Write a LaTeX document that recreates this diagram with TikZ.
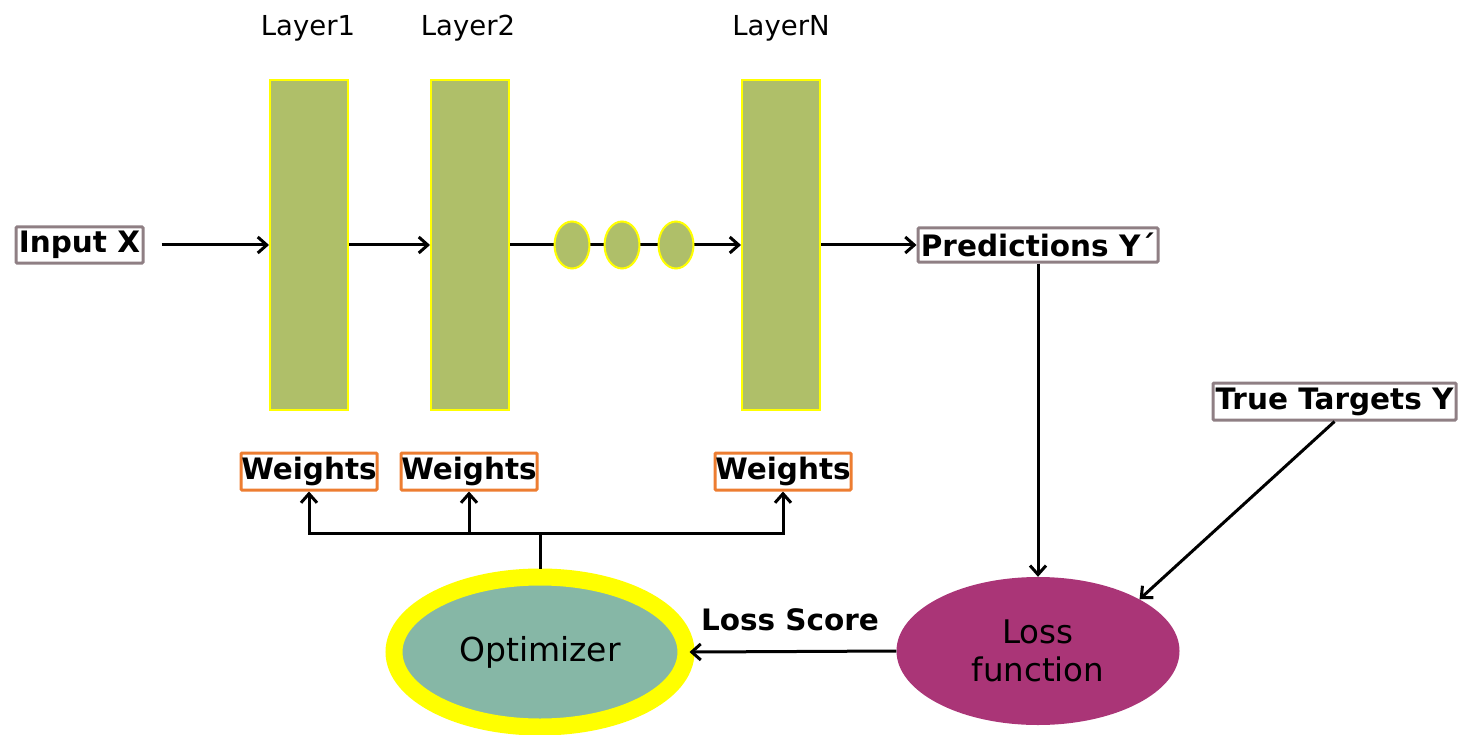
\documentclass[tikz,border=0pt]{standalone}
\usepackage{fontspec}
\setmainfont{DejaVu Sans}
\usetikzlibrary{arrows.meta,shapes.geometric}
\definecolor{layergreen}{HTML}{AFBF69}
\definecolor{ringyellow}{HTML}{FFFF00}
\definecolor{optteal}{HTML}{86B7A6}
\definecolor{lossmag}{HTML}{AA3577}
\definecolor{boxgray}{HTML}{8F7F84}
\definecolor{boxorange}{HTML}{ED7D31}
\tikzset{
  layerbox/.style={draw=ringyellow, line width=2pt, fill=layergreen, minimum width=78pt, minimum height=330pt, inner sep=0pt},
  dotell/.style={ellipse, draw=ringyellow, line width=2pt, fill=layergreen, minimum width=35pt, minimum height=47pt, inner sep=0pt},
  boldlabel/.style={font=\fontsize{29.5}{34}\selectfont\bfseries},
  graybox/.style={draw=boxgray, line width=3pt, fill=white, rounded corners=1pt, inner sep=0pt, boldlabel},
  orangebox/.style={draw=boxorange, line width=3pt, fill=white, rounded corners=1pt, inner sep=0pt, minimum width=136pt, minimum height=37pt, boldlabel},
  laylabel/.style={font=\fontsize{27.5}{32}\selectfont},
  arr/.style={-{Straight Barb[length=9pt,width=16pt,line width=3pt]}, line width=3pt},
  plain/.style={line width=3pt},
}
\begin{document}
\begin{tikzpicture}[x=1pt,y=-1pt]
\useasboundingbox (0,0) rectangle (1471,735);
% layers
\node[layerbox] (l1) at (309,245) {};
\node[layerbox] (l2) at (470,245) {};
\node[layerbox] (ln) at (781,245) {};
\node[laylabel] (t1) at (308,28) {Layer1};
\node[laylabel] (t2) at (468,28) {Layer2};
\node[laylabel] (tn) at (781,28) {LayerN};
% input / predictions
\node[graybox, minimum width=127pt, minimum height=36pt] (in) at (79.5,245) {Input X};
\node[graybox, minimum width=240pt, minimum height=34pt] (pred) at (1038,245) {Predictions Y´};
\node[graybox, minimum width=243pt, minimum height=37pt] (tt) at (1334.5,401.5) {True Targets Y};
% weights
\node[orangebox] (w1) at (309,471.5) {Weights};
\node[orangebox] (w2) at (469,471.5) {Weights};
\node[orangebox] (w3) at (783,471.5) {Weights};
% connectors in the top row
\draw[arr, shorten <=17pt] (in.east) -- (l1.west);
\draw[arr] (l1.east) -- (l2.west);
\draw[arr] (l2.east) -- (ln.west);
\node[dotell] (d1) at (572,245) {};
\node[dotell] (d2) at (622,245) {};
\node[dotell] (d3) at (676,245) {};
\draw[arr] (ln.east) -- (pred.west);
% ellipses
\node[ellipse, draw=ringyellow, line width=17pt, fill=optteal, minimum width=292pt, minimum height=150pt, inner sep=0pt, font=\fontsize{33}{38}\selectfont] (opt) at (540,652) {Optimizer};
\node[ellipse, fill=lossmag, minimum width=283pt, minimum height=148pt, inner sep=0pt, align=center, font=\fontsize{32.5}{38}\selectfont] (loss) at (1038,651) {Loss\\function};
\draw[arr] (pred.south) -- (loss.north);
\draw[arr] (tt.south) -- (loss.27);
\draw[arr, shorten >=-5pt] (loss.west) -- (opt.east);
\node[boldlabel] (ls) at (790,620) {Loss Score};
% optimizer to weights
\coordinate (j) at (540,533);
\draw[plain] (opt.north) -- (j);
\draw[arr] (j) -| (w1.south);
\draw[arr] (j) -| (w2.south);
\draw[arr] (j) -| (w3.south);
\end{tikzpicture}
\end{document}
